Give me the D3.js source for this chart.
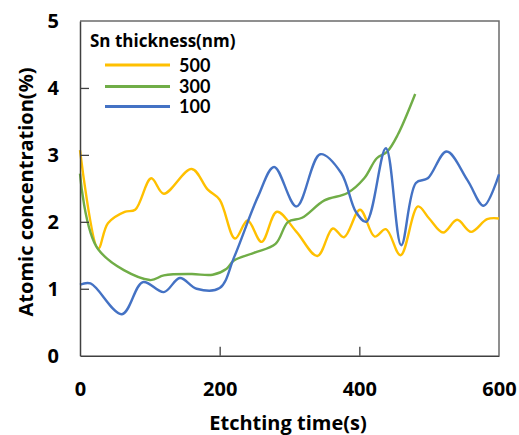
<!DOCTYPE html>
<html><head><meta charset="utf-8">
<script src="https://cdn.jsdelivr.net/npm/d3@7"></script>
<style>body{margin:0;background:#fff}svg{display:block}</style>
</head><body>
<svg id="c" width="519" height="435"></svg>
<script>
const seriesNames = ["500", "300", "100"];
const seriesColors = ["#FFC000", "#70AD47", "#4472C4"];
const t500 = [0, 26, 40, 64, 79, 102, 120, 160, 183, 200, 222, 240, 260, 282, 310, 340, 362, 378, 401, 422, 438, 459, 484, 500, 520, 540, 560, 583, 600];
const v500 = [3.07, 1.60, 1.98, 2.15, 2.18, 2.65, 2.42, 2.79, 2.48, 2.33, 1.75, 2.02, 1.70, 2.15, 1.85, 1.49, 1.90, 1.77, 2.18, 1.78, 1.89, 1.50, 2.23, 2.05, 1.84, 2.03, 1.85, 2.04, 2.05];
const t300 = [0, 26, 100, 120, 160, 190, 210, 220, 250, 280, 298, 318, 350, 383, 407, 425, 440, 455, 480];
const v300 = [2.72, 1.59, 1.13, 1.20, 1.22, 1.21, 1.30, 1.42, 1.54, 1.67, 2.00, 2.06, 2.32, 2.43, 2.65, 2.95, 3.05, 3.30, 3.91];
const t100 = [0, 15, 60, 90, 120, 143, 167, 200, 221, 255, 278, 310, 344, 374, 395, 410, 438, 460, 481, 498, 525, 555, 578, 600];
const v100 = [1.06, 1.08, 0.62, 1.10, 0.95, 1.16, 1.00, 1.01, 1.48, 2.38, 2.82, 2.23, 3.01, 2.73, 2.15, 2.00, 3.10, 1.65, 2.58, 2.65, 3.05, 2.62, 2.24, 2.71];
const xTicks = [0, 200, 400, 600];
const yTicks = [0, 1, 2, 3, 4, 5];

const svg = d3.select("#c");
const L = 80, R = 499, T = 21, B = 355.7;
const x = d3.scaleLinear().domain([0, 600]).range([L, R]);
const y = d3.scaleLinear().domain([0, 5]).range([B, T]);
const font = "'Open Sans', Lato, sans-serif";
const font2 = "Lato, 'Open Sans', sans-serif";

svg.append("path").attr("d", `M${L},${T}H${R}V${B}`).attr("fill", "none").attr("stroke", "#6b6b6b").attr("stroke-width", 1.5);

const series = [{t: t500, v: v500}, {t: t300, v: v300}, {t: t100, v: v100}];
const line = d3.line().x(d => x(d[0])).y(d => y(d[1])).curve(d3.curveCatmullRom.alpha(0.5));
const g = svg.append("g");
[0, 1, 2].forEach(i => {
  const pts = series[i].t.map((t, k) => [t, series[i].v[k]]);
  g.append("path").attr("d", line(pts)).attr("fill", "none")
   .attr("stroke", seriesColors[i]).attr("stroke-width", 2.4).attr("stroke-linejoin", "round");
});

const xAxis = d3.axisBottom(x).tickValues(xTicks).tickFormat(d3.format("d")).tickSizeInner(-9).tickSizeOuter(0).tickPadding(26);
const yAxis = d3.axisLeft(y).tickValues(yTicks).tickFormat(d3.format("d")).tickSizeInner(-9).tickSizeOuter(0).tickPadding(21);
const gx = svg.append("g").attr("transform", `translate(0,${B})`).call(xAxis);
const gy = svg.append("g").attr("transform", `translate(${L},0)`).call(yAxis);
[gx, gy].forEach(a => {
  a.select(".domain").attr("stroke", "#404040").attr("stroke-width", 1.5);
  a.selectAll(".tick line").attr("stroke", "#404040").attr("stroke-width", 1.3);
  a.selectAll(".tick text").attr("font-family", font).attr("font-weight", "bold").attr("font-size", 20).attr("fill", "#000");
});
gx.selectAll(".tick").filter(d => d === 0 || d === 600).select("line").remove();
gy.selectAll(".tick").filter(d => d === 0 || d === 5).select("line").remove();

svg.append("text").attr("x", 288).attr("y", 430).attr("text-anchor", "middle")
  .attr("font-family", font).attr("font-weight", "bold").attr("font-size", 20).text("Etchting time(s)");
svg.append("text").attr("transform", "translate(33,192) rotate(-90)").attr("text-anchor", "middle")
  .attr("font-family", font).attr("font-weight", "bold").attr("font-size", 20).text("Atomic concentration(%)");

svg.append("text").attr("x", 90).attr("y", 47).attr("font-family", font).attr("font-weight", "bold")
  .attr("font-size", 17).text("Sn thickness(nm)");
const ly = [65, 86.5, 106.5];
seriesNames.forEach((n, i) => {
  svg.append("line").attr("x1", 105).attr("x2", 170).attr("y1", ly[i]).attr("y2", ly[i])
    .attr("stroke", seriesColors[i]).attr("stroke-width", 3);
  svg.append("text").attr("x", 179).attr("y", ly[i] + 6.5).attr("font-family", font2).attr("font-weight", "bold")
    .attr("font-size", 18).text(n);
});
</script>
</body></html>
